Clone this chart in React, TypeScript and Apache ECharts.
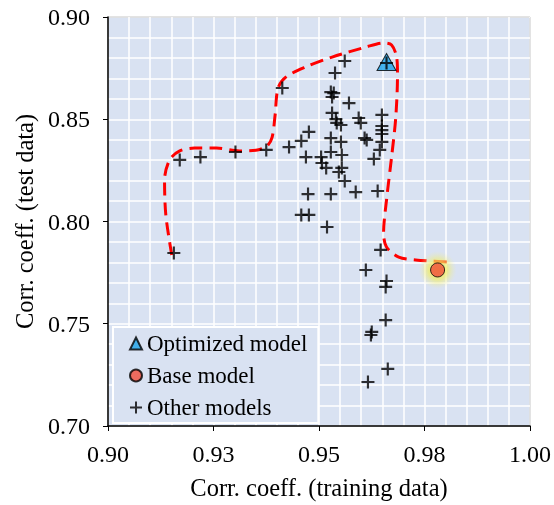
import React, { useEffect, useRef } from "react";
import * as echarts from "echarts";

const xTickLabels = ["0.90", "0.93", "0.95", "0.98", "1.00"];

const optimizedModel = [[0.966, 0.878]];
const baseModel = [[0.9781, 0.7763]];

const otherX = [
  0.9156, 0.917, 0.9219, 0.9302, 0.9375, 0.9413, 0.9429, 0.9458, 0.9476, 0.9469,
  0.9474, 0.9458, 0.9476, 0.9519, 0.9505, 0.9507, 0.9517, 0.9528, 0.9554, 0.9554,
  0.9547, 0.9561, 0.9552, 0.9528, 0.9608, 0.9613, 0.9649, 0.9649, 0.9649, 0.9649,
  0.9649, 0.9644, 0.963, 0.9528, 0.9587, 0.9639, 0.9646, 0.9611, 0.966, 0.9658,
  0.9658, 0.9625, 0.9623, 0.9663, 0.9616, 0.9561, 0.9538, 0.9528, 0.9535, 0.9531,
  0.9571, 0.9531, 0.954, 0.9542, 0.9552, 0.9594, 0.9599, 0.966,
];
const otherY = [
  0.7846, 0.8301, 0.8315, 0.834, 0.835, 0.8653, 0.8364, 0.8394, 0.8438, 0.8315,
  0.8134, 0.8032, 0.8032, 0.7973, 0.8315, 0.8286, 0.8262, 0.834, 0.8325, 0.8262,
  0.8242, 0.8198, 0.8389, 0.8408, 0.8408, 0.8399, 0.8521, 0.8467, 0.8447, 0.8428,
  0.8389, 0.835, 0.8306, 0.8134, 0.8144, 0.8149, 0.7861, 0.7763, 0.7709, 0.768,
  0.7518, 0.746, 0.7445, 0.7279, 0.7215, 0.8785, 0.8726, 0.8633, 0.8628, 0.8609,
  0.8579, 0.8531, 0.8501, 0.8482, 0.8472, 0.8506, 0.8482, 0.8775,
];

const curveX = [
  0.9151, 0.9137, 0.9134, 0.9146, 0.917, 0.9205, 0.9257, 0.9311, 0.9354, 0.9377,
  0.9389, 0.9396, 0.9403, 0.9422, 0.9469, 0.9531, 0.9611, 0.9653, 0.9672, 0.9684,
  0.9686, 0.9682, 0.9672, 0.966, 0.9653, 0.966, 0.9689, 0.9729, 0.9807,
];
const curveY = [
  0.7836, 0.8032, 0.8203, 0.8301, 0.8345, 0.8359, 0.8359, 0.8345, 0.835, 0.8369,
  0.8413, 0.8521, 0.8653, 0.8707, 0.8756, 0.8804, 0.8853, 0.8873, 0.8863, 0.8804,
  0.8716, 0.8511, 0.8315, 0.8105, 0.7944, 0.7875, 0.7826, 0.7812, 0.7802,
];

const FONT = '"Liberation Serif", "Times New Roman", serif';
const PLUS = "path://M5,0 H7 V5 H12 V7 H7 V12 H5 V7 H0 V5 H5 Z";

export default function App() {
  const ref = useRef<HTMLDivElement>(null);
  useEffect(() => {
    if (!ref.current) return;
    const chart = echarts.init(ref.current, null, { renderer: "svg" });
    const others = otherX.map((x, i) => [x, otherY[i]]);
    const curve = curveX.map((x, i) => [x, curveY[i]]);
    chart.setOption({
      animation: false,
      textStyle: { fontFamily: FONT },
      grid: {
        left: 108,
        right: 22,
        top: 17,
        bottom: 79,
        show: true,
        backgroundColor: "#D9E2F2",
        borderColor: "#222",
        borderWidth: 1,
      },
      legend: {
        orient: "vertical",
        left: 113,
        top: 327,
        data: ["Optimized model", "Base model", "Other models"],
        backgroundColor: "#D9E2F2",
        borderColor: "#ffffff",
        borderWidth: 2,
        borderRadius: 0,
        padding: [5, 11, 4, 16],
        itemWidth: 12,
        itemHeight: 12,
        itemGap: 9,
        textStyle: { fontFamily: FONT, fontSize: 23, color: "#000" },
      },
      xAxis: {
        type: "value",
        min: 0.9,
        max: 1.0,
        interval: 0.025,
        name: "Corr. coeff. (training data)",
        nameLocation: "middle",
        nameGap: 49,
        nameTextStyle: { fontFamily: FONT, fontSize: 24.5, color: "#000" },
        axisLine: { show: true, lineStyle: { color: "#000", width: 1.5 } },
        axisTick: { show: true, length: 5, lineStyle: { color: "#000" } },
        axisLabel: {
          fontFamily: FONT,
          fontSize: 24,
          color: "#000",
          margin: 16,
          formatter: (v: number) => xTickLabels[Math.round((v - 0.9) / 0.025)] ?? "",
        },
        splitLine: { show: true, lineStyle: { color: "#ffffff", width: 1.5 } },
        minorTick: { show: false, splitNumber: 5 },
        minorSplitLine: { show: true, lineStyle: { color: "#ffffff", width: 1.5 } },
      },
      yAxis: {
        type: "value",
        min: 0.7,
        max: 0.9,
        interval: 0.05,
        name: "Corr. coeff. (test data)",
        nameLocation: "middle",
        nameGap: 70,
        nameTextStyle: { fontFamily: FONT, fontSize: 24.5, color: "#000" },
        axisLine: { show: true, lineStyle: { color: "#000", width: 1.5 } },
        axisTick: { show: true, length: 5, lineStyle: { color: "#000" } },
        axisLabel: {
          fontFamily: FONT,
          fontSize: 24,
          color: "#000",
          margin: 18,
          formatter: (v: number) => v.toFixed(2),
        },
        splitLine: { show: true, lineStyle: { color: "#ffffff", width: 1.5 } },
        minorTick: { show: false, splitNumber: 5 },
        minorSplitLine: { show: true, lineStyle: { color: "#ffffff", width: 1.5 } },
      },
      series: [
        {
          name: "curve",
          type: "line",
          data: curve,
          smooth: 0.3,
          showSymbol: false,
          silent: true,
          lineStyle: { color: "#FF0000", width: 3, type: [13, 7] },
          z: 2,
        },
        {
          name: "glow",
          type: "scatter",
          data: baseModel,
          symbol: "circle",
          symbolSize: 38,
          silent: true,
          itemStyle: {
            color: {
              type: "radial",
              x: 0.5,
              y: 0.5,
              r: 0.5,
              colorStops: [
                { offset: 0, color: "rgba(248, 240, 60, 1)" },
                { offset: 0.5, color: "rgba(242, 238, 100, 0.85)" },
                { offset: 1, color: "rgba(235, 235, 170, 0)" },
              ],
            },
          },
          z: 3,
        },
        {
          name: "Optimized model",
          type: "scatter",
          data: optimizedModel,
          symbol: "triangle",
          symbolSize: [19, 17],
          itemStyle: { color: "#1AA3E8", borderColor: "#000", borderWidth: 1 },
          z: 3,
        },
        {
          name: "Base model",
          type: "scatter",
          data: baseModel,
          symbol: "circle",
          symbolSize: 14,
          itemStyle: { color: "#F04E3A", borderColor: "#000", borderWidth: 1 },
          z: 3,
        },
        {
          name: "Other models",
          type: "scatter",
          data: others,
          symbol: PLUS,
          symbolSize: 13,
          itemStyle: { color: "#000" },
          z: 4,
        },
      ],
    });
    return () => chart.dispose();
  }, []);
  return (
    <div
      ref={ref}
      style={{ position: "fixed", left: 0, top: 0, width: 554, height: 505 }}
    />
  );
}
